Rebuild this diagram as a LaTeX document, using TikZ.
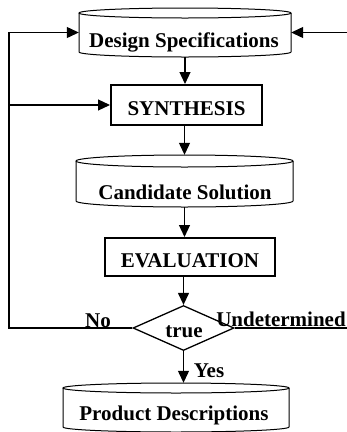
\documentclass[tikz,border=0pt]{standalone}
\usepackage{fontspec}
\setmainfont{Liberation Serif}
\usetikzlibrary{arrows.meta,shapes.geometric}
\newcommand\cyldraw[5]{%
  \draw[cylline] ({#1-#2},#3) -- ({#1-#2},#4) arc[start angle=180,end angle=360,x radius=#2pt,y radius=#5pt] -- ({#1+#2},#3);
  \draw[cylline] (#1,#3) ellipse [x radius=#2pt,y radius=#5pt];}
\begin{document}
\begin{tikzpicture}[x=1pt,y=-1pt,
  lblfont/.style={font=\fontsize{21}{24}\selectfont\bfseries},
  lbl/.style={lblfont, inner sep=0pt, anchor=base},
  cylbody/.style={draw=none, inner sep=0pt, rectangle},
  cylline/.style={line width=1pt},
  procbox/.style={draw, line width=2.4pt, inner sep=0pt, lblfont, text height=21pt, text depth=0pt},
  decision/.style={diamond, draw, line width=1.3pt, inner sep=0pt, minimum width=101pt, minimum height=45pt},
  conn/.style={line width=1.2pt},
  arr/.style={conn, -{Triangle[length=12pt,width=11pt]}}]
\useasboundingbox (0,0) rectangle (347,432);
\fill[white] (0,0) rectangle (347,432);

% Design Specifications
\node[cylbody, minimum width=212pt, minimum height=49pt] (ds) at (185,32.5) {};
\cyldraw{185}{106}{13}{52}{5}
\node[lbl] (dstxt) at (184,47) {Design Specifications};

% Synthesis
\node[procbox, minimum width=150.6pt, minimum height=39.6pt] (syn) at (186.5,105) {SYNTHESIS};

% Candidate Solution
\node[cylbody, minimum width=217pt, minimum height=52pt] (cs) at (184.5,181) {};
\cyldraw{184.5}{108.5}{161}{201}{6}
\node[lbl] (cstxt) at (185,199) {Candidate Solution};

% Evaluation
\node[procbox, minimum width=169.6pt, minimum height=37.6pt] (ev) at (190,257) {EVALUATION};

% Decision
\node[decision] (dia) at (183.5,328) {};
\node[lbl] (truetxt) at (184,337) {true};

% Product Descriptions
\node[cylbody, minimum width=226pt, minimum height=49pt] (pd) at (176,407.5) {};
\cyldraw{176}{113}{388}{427}{5}
\node[lbl] (pdtxt) at (174,420) {Product Descriptions};

% edge coordinates
\coordinate (L) at (9,329);
\coordinate (R) at (347,0);

% main flow
\draw[arr] (ds.south) -- (ds.south |- syn.north);
\draw[arr] (syn.south -| cs.north) -- (cs.north);
\draw[arr] (cs.south) -- (cs.south |- ev.north);
\draw[arr] (ev.south -| dia.north) -- (dia.north);
\draw[arr] (dia.south) -- (dia.south |- pd.north);

% feedback loops
\draw[arr] (dia.west) -- (dia.west -| L) -- (L |- ds.west) -- (ds.west);
\draw[arr] (L |- syn.west) -- (syn.west);
\draw[conn] (dia.east) -- (dia.east -| R);
\draw[arr] (R |- ds.east) -- (ds.east);

% branch labels
\node[lbl] (no) at (98,327) {No};
\node[lbl] (und) at (281,326) {Undetermined};
\node[lbl] (yes) at (209,377) {Yes};
\end{tikzpicture}
\end{document}
